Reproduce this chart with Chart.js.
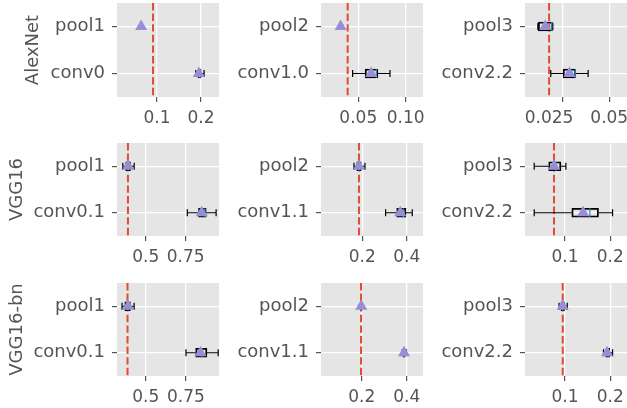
<!DOCTYPE html>
<html>
<head>
<meta charset="utf-8">
<script src="https://cdn.jsdelivr.net/npm/chart.js@4.4.0/dist/chart.umd.min.js"></script>
<style>
    html, body { margin: 0; padding: 0; background: #ffffff; }
    #wrap { position: relative; width: 627px; height: 408px; overflow: hidden; }
    .cell { position: absolute; }
</style>
</head>
<body>
<div id="wrap"></div>
<script>
// Row names (networks) and layer labels per panel, top category first
const rowNames = ['AlexNet', 'VGG16', 'VGG16-bn'];
const layerLabels = [
    ['pool1', 'conv0'], ['pool2', 'conv1.0'], ['pool3', 'conv2.2'],
    ['pool1', 'conv0.1'], ['pool2', 'conv1.1'], ['pool3', 'conv2.2'],
    ['pool1', 'conv0.1'], ['pool2', 'conv1.1'], ['pool3', 'conv2.2']
];

// Box statistics per panel: [pool, conv]
const whiskerLow = [
    [0.064, 0.188], [0.0314, 0.044], [0.0118, 0.0187],
    [0.357, 0.76], [0.1625, 0.305], [0.032, 0.032],
    [0.353, 0.75], [0.196, 0.38], [0.087, 0.185]
];
const quart1 = [
    [0.064, 0.193], [0.0314, 0.0572], [0.0120, 0.0253],
    [0.375, 0.83], [0.175, 0.355], [0.064, 0.115],
    [0.37, 0.81], [0.197, 0.384], [0.091, 0.19]
];
const medians = [
    [0.064, 0.197], [0.0314, 0.069], [0.0192, 0.0318],
    [0.39, 0.87], [0.185, 0.385], [0.08, 0.155],
    [0.39, 0.85], [0.198, 0.388], [0.095, 0.195]
];
const quart3 = [
    [0.064, 0.200], [0.0314, 0.0706], [0.0196, 0.0321],
    [0.405, 0.878], [0.195, 0.397], [0.091, 0.174],
    [0.405, 0.88], [0.200, 0.392], [0.099, 0.199]
];
const whiskerHigh = [
    [0.064, 0.207], [0.0314, 0.0834], [0.0198, 0.0387],
    [0.428, 0.94], [0.212, 0.425], [0.102, 0.205],
    [0.428, 0.95], [0.201, 0.398], [0.105, 0.205]
];
const means = [
    [0.064, 0.195], [0.0314, 0.0636], [0.0157, 0.0287],
    [0.39, 0.85], [0.185, 0.371], [0.076, 0.14],
    [0.39, 0.84], [0.198, 0.388], [0.095, 0.193]
];
// Red dashed reference value per panel
const refLine = [0.091, 0.0388, 0.0178, 0.389, 0.185, 0.0757, 0.387, 0.197, 0.095];

// X axis ranges and ticks per panel
const xMin = [0.0091, 0.0107, 0.0049, 0.3206, 0.014, 0.0117, 0.3217, 0.019, 0.0117];
const xMax = [0.2409, 0.1182, 0.0595, 0.958, 0.4734, 0.2369, 0.955, 0.4724, 0.2369];
const xTickValues = [
    [0.1, 0.2], [0.05, 0.10], [0.025, 0.05],
    [0.5, 0.75], [0.2, 0.4], [0.1, 0.2],
    [0.5, 0.75], [0.2, 0.4], [0.1, 0.2]
];
// trailing spaces on 0.025 nudge it left like in the original
const xTickLabels = [
    ['0.1', '0.2'], ['0.05', '0.10'], ['0.025     ', '0.05'],
    ['0.5', '0.75'], ['0.2', '0.4'], ['0.1', '0.2'],
    ['0.5', '0.75'], ['0.2', '0.4'], ['0.1', '0.2']
];

// Page layout (pixels)
const cols = [
    { left: 0, right: 222, plotLeft: 117, plotRight: 219 },
    { left: 222, right: 424, plotLeft: 321, plotRight: 423 },
    { left: 424, right: 627, plotLeft: 525, plotRight: 627 }
];
const rows = [
    { top: 0, bottom: 128, plotTop: 3, plotBottom: 97, titlePad: 23 },
    { top: 128, bottom: 268, plotTop: 143, plotBottom: 236, titlePad: 7 },
    { top: 268, bottom: 408, plotTop: 283, plotBottom: 376, titlePad: 7 }
];

const FONT = 'DejaVu Sans';
const TEXT = '#555555';

// Reference line behind everything, whiskers + median right after the boxes
const boxPlugin = {
    id: 'boxExtras',
    beforeDatasetsDraw(chart) {
        const k = chart.options.panelIndex;
        const { ctx, chartArea, scales } = chart;
        const x = scales.x.getPixelForValue(refLine[k]);
        ctx.save();
        ctx.strokeStyle = '#E24A33';
        ctx.lineWidth = 2;
        ctx.setLineDash([7.4, 3.2]);
        ctx.beginPath();
        ctx.moveTo(x, chartArea.top);
        ctx.lineTo(x, chartArea.bottom);
        ctx.stroke();
        ctx.restore();
    },
    afterDatasetDraw(chart, args) {
        if (args.index !== 1) return;
        const k = chart.options.panelIndex;
        const { ctx, scales } = chart;
        const xs = scales.x, ys = scales.y;
        const half = 4.5, cap = 3.5;
        ctx.save();
        layerLabels[k].forEach((lab, i) => {
            const y = ys.getPixelForValue(i);
            const lo = xs.getPixelForValue(whiskerLow[k][i]);
            const a = xs.getPixelForValue(quart1[k][i]);
            const b = xs.getPixelForValue(quart3[k][i]);
            const hi = xs.getPixelForValue(whiskerHigh[k][i]);
            const md = xs.getPixelForValue(medians[k][i]);
            if (hi - lo < 0.5) return;
            ctx.strokeStyle = '#000000';
            ctx.lineWidth = 1.2;
            ctx.beginPath();
            ctx.moveTo(lo, y); ctx.lineTo(a, y);
            ctx.moveTo(b, y); ctx.lineTo(hi, y);
            ctx.moveTo(lo, y - cap); ctx.lineTo(lo, y + cap);
            ctx.moveTo(hi, y - cap); ctx.lineTo(hi, y + cap);
            ctx.stroke();
            ctx.strokeStyle = '#348ABD';
            ctx.beginPath();
            ctx.moveTo(md, y - half); ctx.lineTo(md, y + half);
            ctx.stroke();
        });
        ctx.restore();
    }
};

function makePanel(r, c) {
    const k = r * 3 + c;
    const col = cols[c], row = rows[r];
    const box = document.createElement('div');
    box.className = 'cell';
    box.style.left = col.left + 'px';
    box.style.top = row.top + 'px';
    box.style.width = (col.right - col.left) + 'px';
    box.style.height = (row.bottom - row.top) + 'px';
    const cv = document.createElement('canvas');
    box.appendChild(cv);
    document.getElementById('wrap').appendChild(box);

    new Chart(cv, {
        type: 'bar',
        data: {
            labels: layerLabels[k],
            datasets: [{
                type: 'line',
                data: layerLabels[k].map((lab, i) => ({ x: means[k][i], y: lab })),
                showLine: false,
                pointStyle: 'triangle',
                pointRadius: 7,
                backgroundColor: '#988ED5',
                borderColor: '#988ED5',
                borderWidth: 0,
                order: 0
            }, {
                data: layerLabels[k].map((lab, i) =>
                    quart3[k][i] - quart1[k][i] > 0.005 * (xMax[k] - xMin[k])
                        ? [quart1[k][i], quart3[k][i]] : null),
                backgroundColor: 'rgba(0,0,0,0)',
                borderColor: '#000000',
                borderWidth: 1.2,
                borderSkipped: false,
                barThickness: 9,
                order: 1
            }]
        },
        options: {
            panelIndex: k,
            indexAxis: 'y',
            responsive: true,
            maintainAspectRatio: false,
            animation: false,
            layout: {
                autoPadding: false,
                padding: { top: row.plotTop - row.top, right: col.right - col.plotRight, left: 0, bottom: 0 }
            },
            plugins: {
                legend: { display: false },
                tooltip: { enabled: false }
            },
            scales: {
                x: {
                    type: 'linear',
                    min: xMin[k],
                    max: xMax[k],
                    afterBuildTicks: (s) => { s.ticks = xTickValues[k].map(v => ({ value: v })); },
                    ticks: {
                        callback: (v, i) => xTickLabels[k][i],
                        color: TEXT,
                        font: { family: FONT, size: 17 },
                        padding: 6,
                        maxRotation: 0,
                        autoSkip: false
                    },
                    grid: { color: '#ffffff', lineWidth: 1.2, tickColor: TEXT, tickLength: 5 },
                    border: { display: false },
                    afterFit: (s) => {
                        s.height = row.bottom - row.plotBottom;
                        s.paddingLeft = 0; s.paddingRight = 0;
                    }
                },
                y: {
                    type: 'category',
                    offset: true,
                    grid: { offset: false, color: '#ffffff', lineWidth: 1.2, tickColor: TEXT, tickLength: 5 },
                    border: { display: false },
                    ticks: {
                        color: TEXT,
                        font: { family: FONT, size: 18 },
                        padding: 7
                    },
                    title: {
                        display: c === 0,
                        text: rowNames[r],
                        color: TEXT,
                        font: { family: FONT, size: 18 },
                        padding: { top: row.titlePad, bottom: 0 }
                    },
                    afterFit: (s) => {
                        s.width = col.plotLeft - col.left;
                        s.paddingTop = 0; s.paddingBottom = 0;
                    }
                }
            }
        },
        plugins: [boxPlugin, {
            id: 'panelBg',
            beforeDraw(chart) {
                const { ctx, chartArea } = chart;
                ctx.save();
                ctx.fillStyle = '#E5E5E5';
                ctx.fillRect(chartArea.left, chartArea.top, chartArea.right - chartArea.left, chartArea.bottom - chartArea.top);
                ctx.restore();
            }
        }]
    });
}

for (let r = 0; r < 3; r++) {
    for (let c = 0; c < 3; c++) makePanel(r, c);
}
</script>
</body>
</html>
